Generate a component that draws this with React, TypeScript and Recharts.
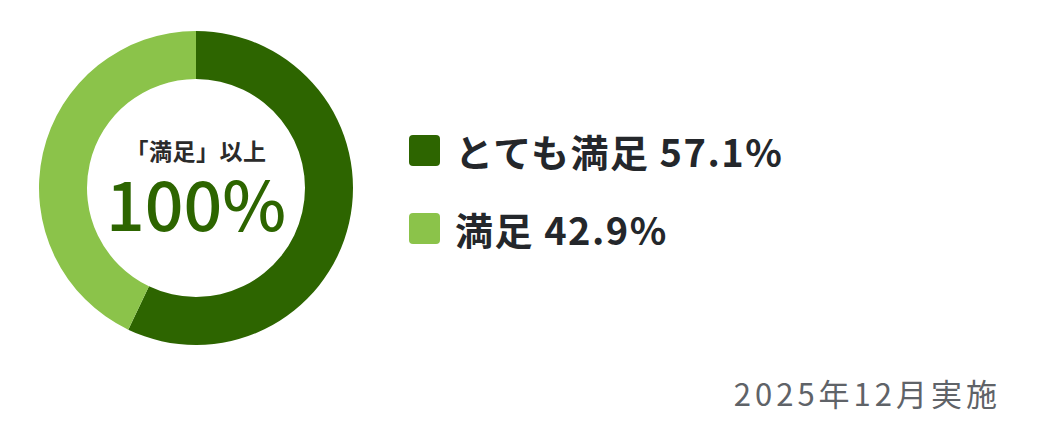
import React from 'react';
import { PieChart, Pie, Cell, Legend } from 'recharts';

const categories = ['とても満足', '満足'];
const shares = [57.1, 42.9];
const colors = ['#2d6500', '#8bc34a'];
const centerCaption = '「満足」以上';
const centerValue = '100%';
const footnote = '2025年12月実施';

const data = categories.map((name, i) => ({ name, value: shares[i] }));

const FONT = '"Noto Sans CJK JP", "Noto Sans", sans-serif';
const CX = 196;
const CY = 188;

const LegendContent = () => (
  <div>
    {data.map((d, i) => (
      <div key={d.name} style={{ display: 'flex', alignItems: 'center', height: 38, marginBottom: 40 }}>
        <div style={{ width: 31, height: 31, background: colors[i], borderRadius: 4, marginRight: 15 }} />
        <span
          style={{
            fontSize: 38,
            fontWeight: 700,
            letterSpacing: 1.5,
            color: '#24272b',
            fontFamily: FONT,
            whiteSpace: 'nowrap',
          }}
        >
          {d.name} {d.value.toFixed(1)}%
        </span>
      </div>
    ))}
  </div>
);

export default function App() {
  return (
    <div style={{ position: 'absolute', left: 0, top: 0, width: 1040, height: 440, background: '#fff' }}>
      <PieChart width={1040} height={440} margin={{ top: 0, right: 0, bottom: 0, left: 0 }}>
        <Pie
          data={data}
          dataKey="value"
          nameKey="name"
          cx={CX}
          cy={CY}
          innerRadius={109}
          outerRadius={157}
          startAngle={90}
          endAngle={-270}
          stroke="none"
          isAnimationActive={false}
        >
          {data.map((d, i) => (
            <Cell key={d.name} fill={colors[i]} />
          ))}
        </Pie>
        <Legend
          content={<LegendContent />}
          wrapperStyle={{ position: 'absolute', left: 409, top: 131, width: 560 }}
        />
      </PieChart>
      <div
        style={{
          position: 'absolute',
          left: CX - 120,
          width: 240,
          top: CY - 51,
          textAlign: 'center',
          fontFamily: FONT,
          pointerEvents: 'none',
        }}
      >
        <div style={{ fontSize: 23, fontWeight: 700, color: '#2b2b2b', lineHeight: '26px', letterSpacing: 0.5 }}>
          {centerCaption}
        </div>
        <div style={{ fontSize: 68, fontWeight: 500, color: '#2d6500', lineHeight: '66px', marginTop: 6 }}>
          {centerValue}
        </div>
      </div>
      <div
        style={{
          position: 'absolute',
          right: 39,
          top: 370,
          fontSize: 31,
          letterSpacing: 4,
          color: '#5f6368',
          fontFamily: FONT,
          whiteSpace: 'nowrap',
        }}
      >
        {footnote}
      </div>
    </div>
  );
}
